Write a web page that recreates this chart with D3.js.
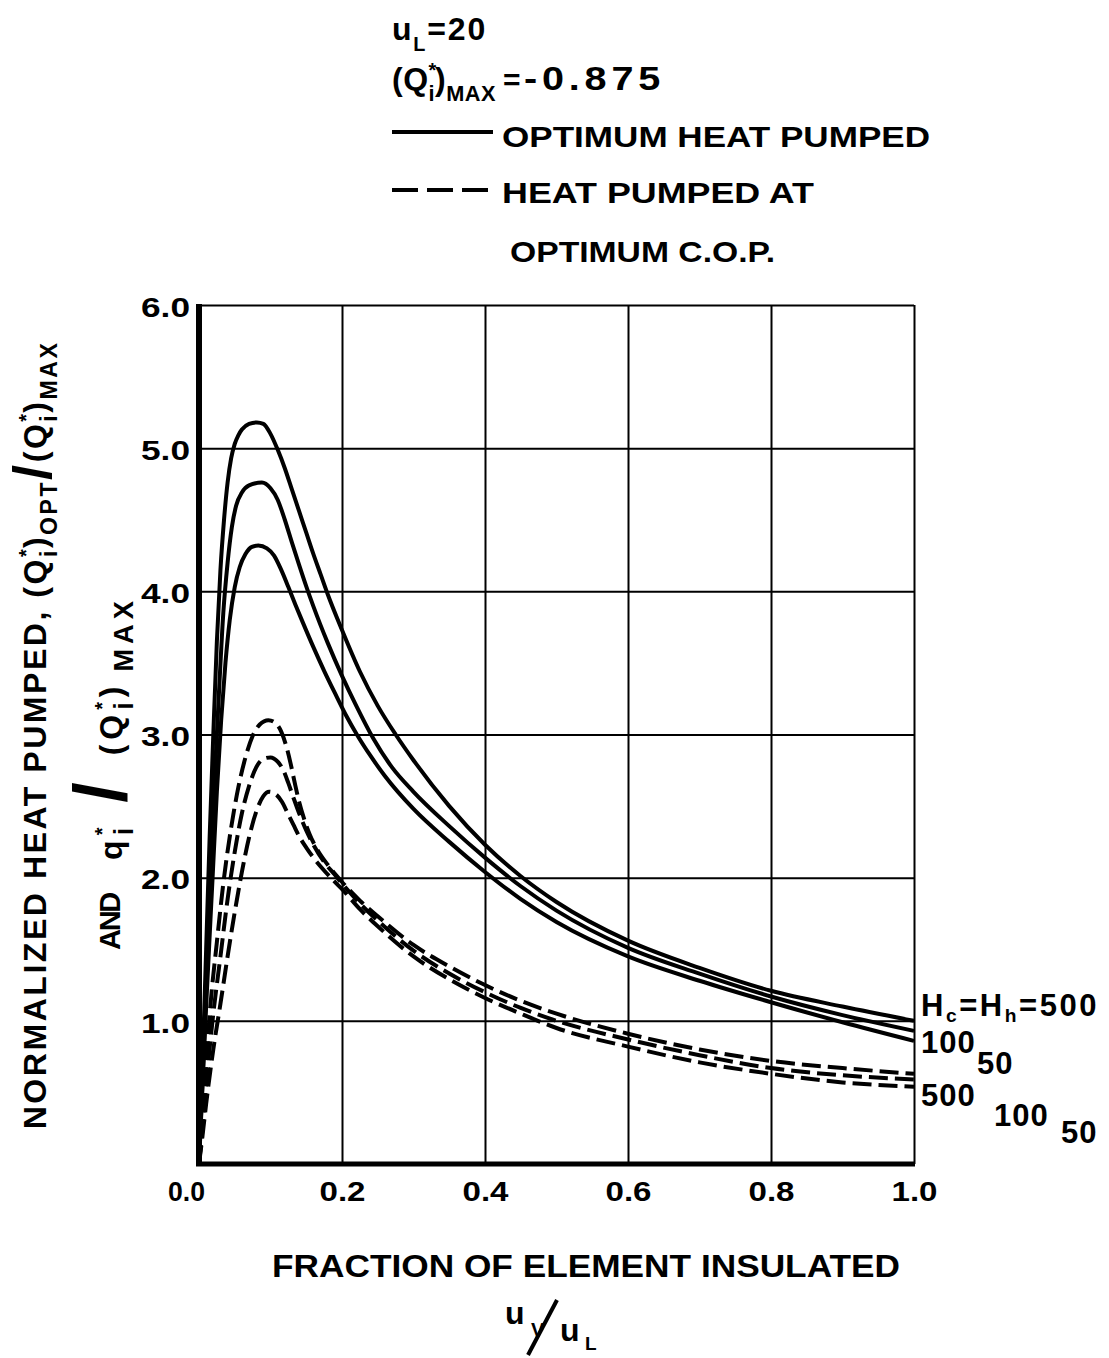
<!DOCTYPE html>
<html><head><meta charset="utf-8">
<script src="https://cdn.jsdelivr.net/npm/d3@7"></script>
<style>
body{margin:0;background:#fff}
svg{display:block;background:#fff}
text{font-family:"Liberation Sans",Arial,sans-serif;font-weight:bold;fill:#000}
</style></head>
<body><svg id="c" width="1109" height="1358"></svg>
<script>
// ---------- data ----------
const xTicks = [0, 0.2, 0.4, 0.6, 0.8, 1.0];
const xTickLabels = ["0.0", "0.2", "0.4", "0.6", "0.8", "1.0"];
const yTicks = [1, 2, 3, 4, 5, 6];
const yTickLabels = ["1.0", "2.0", "3.0", "4.0", "5.0", "6.0"];

// Optimum heat pumped (solid), Hc = Hh = 500, 100, 50  — [u_v/u_L, value]
const solid500 = [[0,0],[0.005,0.7],[0.01,1.5],[0.015,2.3],[0.02,3.0],[0.025,3.65],[0.03,4.15],[0.035,4.5],[0.04,4.76],[0.045,4.93],[0.05,5.03],[0.055,5.09],[0.06,5.13],[0.07,5.17],[0.081,5.18],[0.09,5.17],[0.1,5.1],[0.11,4.99],[0.12,4.86],[0.13,4.71],[0.14,4.56],[0.15,4.41],[0.16,4.26],[0.17,4.12],[0.18,3.98],[0.2,3.73],[0.225,3.44],[0.25,3.2],[0.275,3.0],[0.3,2.82],[0.35,2.5],[0.4,2.23],[0.45,2.01],[0.5,1.83],[0.6,1.56],[0.7,1.37],[0.8,1.21],[0.9,1.1],[1.0,1.0]];
const solid100 = [[0,0],[0.005,0.6],[0.01,1.25],[0.016,2.0],[0.022,2.7],[0.028,3.3],[0.034,3.85],[0.04,4.2],[0.046,4.45],[0.052,4.6],[0.06,4.69],[0.07,4.74],[0.088,4.76],[0.1,4.72],[0.11,4.64],[0.12,4.5],[0.13,4.34],[0.14,4.185],[0.15,4.035],[0.16,3.895],[0.18,3.64],[0.2,3.41],[0.22,3.2],[0.244,2.97],[0.27,2.77],[0.3,2.6],[0.35,2.36],[0.4,2.14],[0.45,1.94],[0.5,1.77],[0.6,1.51],[0.7,1.33],[0.8,1.17],[0.9,1.04],[1.0,0.93]];
const solid50 = [[0,0],[0.005,0.55],[0.01,1.1],[0.019,2.0],[0.025,2.6],[0.031,3.1],[0.037,3.5],[0.043,3.8],[0.05,4.03],[0.057,4.17],[0.065,4.26],[0.074,4.31],[0.083,4.32],[0.095,4.3],[0.105,4.25],[0.115,4.15],[0.125,4.03],[0.135,3.905],[0.145,3.785],[0.16,3.61],[0.175,3.445],[0.19,3.29],[0.205,3.14],[0.222,2.99],[0.24,2.85],[0.26,2.71],[0.3,2.48],[0.35,2.25],[0.4,2.04],[0.45,1.85],[0.5,1.69],[0.6,1.45],[0.7,1.28],[0.8,1.13],[0.9,0.99],[1.0,0.86]];

// Heat pumped at optimum C.O.P. (dashed), Hc = Hh = 500, 100, 50
const dashed500 = [[0,0],[0.005,0.3],[0.01,0.7],[0.015,1.05],[0.025,1.55],[0.035,2.0],[0.045,2.35],[0.055,2.63],[0.065,2.84],[0.075,2.99],[0.085,3.07],[0.097,3.1],[0.107,3.08],[0.115,3.02],[0.122,2.92],[0.128,2.8],[0.134,2.66],[0.14,2.53],[0.147,2.41],[0.155,2.3],[0.165,2.2],[0.18,2.09],[0.2,1.97],[0.225,1.84],[0.25,1.73],[0.3,1.53],[0.35,1.38],[0.4,1.25],[0.45,1.14],[0.5,1.05],[0.6,0.91],[0.7,0.8],[0.8,0.72],[0.9,0.67],[1.0,0.63]];
const dashed100 = [[0,0],[0.005,0.25],[0.01,0.55],[0.02,1.05],[0.03,1.45],[0.04,1.85],[0.05,2.18],[0.06,2.45],[0.07,2.64],[0.08,2.77],[0.09,2.83],[0.1,2.84],[0.11,2.81],[0.118,2.75],[0.125,2.66],[0.132,2.56],[0.14,2.45],[0.15,2.33],[0.16,2.23],[0.175,2.11],[0.19,2.02],[0.2,1.96],[0.225,1.82],[0.25,1.7],[0.3,1.49],[0.35,1.33],[0.4,1.2],[0.45,1.09],[0.5,1.0],[0.6,0.87],[0.7,0.76],[0.8,0.67],[0.9,0.62],[1.0,0.59]];
const dashed50 = [[0,0],[0.005,0.2],[0.01,0.42],[0.02,0.8],[0.03,1.12],[0.04,1.45],[0.05,1.76],[0.06,2.04],[0.07,2.28],[0.08,2.46],[0.09,2.57],[0.098,2.6],[0.108,2.58],[0.116,2.53],[0.124,2.45],[0.132,2.37],[0.14,2.29],[0.15,2.21],[0.16,2.14],[0.175,2.05],[0.19,1.97],[0.2,1.92],[0.225,1.78],[0.25,1.66],[0.3,1.45],[0.35,1.29],[0.4,1.16],[0.45,1.05],[0.5,0.95],[0.6,0.82],[0.7,0.71],[0.8,0.63],[0.9,0.57],[1.0,0.54]];

const solidSeries = [solid500, solid100, solid50];
const dashedSeries = [dashed500, dashed100, dashed50];

// ---------- layout ----------
const svg = d3.select("#c");
const L = 199, R = 914, T = 305, B = 1164;
const x = d3.scaleLinear().domain([0, 1]).range([L, R]);
const y = d3.scaleLinear().domain([0, 6]).range([B, T]);

// rich text: segments [text, kind, dx]
function rich(sel, px, py, segs, fs0, opts) {
  opts = opts || {};
  const subF = opts.subF || 0.62;
  const subSh = opts.subSh != null ? opts.subSh : 0.34;
  const bigF = opts.bigF || 1.45;
  function build(fs, ls) {
    const t = sel.append("text").attr("x", px).attr("y", py).attr("font-size", fs)
      .attr("letter-spacing", ls);
    if (opts.anchor) t.attr("text-anchor", opts.anchor);
    if (opts.transform) t.attr("transform", opts.transform);
    let cur = 0, prev = null;
    segs.forEach(([s, k, dx]) => {
      let size = fs, sh = 0;
      if (k === "sub" || k === "subS") { size = fs * subF; sh = fs * subSh; }
      if (k === "sup") { size = fs * 0.62; sh = -fs * 0.42; }
      if (k === "big") { size = fs * bigF; sh = fs * 0.14; }
      const ts = t.append("tspan").attr("font-size", size).attr("dy", sh - cur).text(s);
      let ddx = dx || 0;
      if (k === "subS" && prev) ddx -= prev.getComputedTextLength();
      if (ddx) ts.attr("dx", ddx);
      cur = sh; prev = ts.node();
    });
    return t;
  }
  let fs = fs0, ls = opts.ls || 0;
  let t = build(fs, ls);
  for (let k = 0; k < 2 && (opts.fit || opts.fitSize); k++) {
    const len = t.node().getComputedTextLength();
    if (opts.fit) {
      const n = segs.reduce((a, s) => a + s[0].length, 0);
      ls = ls + (opts.fit - len) / n;
    } else {
      fs = fs * opts.fitSize / len;
    }
    t.remove(); t = build(fs, ls);
  }
  return t;
}

// grid via axes
const gx = svg.append("g").attr("transform", `translate(0,${B})`)
  .call(d3.axisBottom(x).tickValues(xTicks).tickSize(-(B - T)).tickPadding(17)
    .tickFormat((d, i) => xTickLabels[i]));
gx.select(".domain").remove();
gx.selectAll(".tick line").attr("stroke", "#000").attr("stroke-width", 2);
gx.selectAll(".tick text").attr("font-size", 28).attr("font-family", null).attr("fill", "#000")
  .attr("textLength", (d, i) => i === 0 ? 37 : 46).attr("lengthAdjust", "spacingAndGlyphs")
  .attr("dx", (d, i) => i === 0 ? -13 : 0);

const gy = svg.append("g").attr("transform", `translate(${L},0)`)
  .call(d3.axisLeft(y).tickValues(yTicks).tickSize(-(R - L)).tickPadding(9)
    .tickFormat((d, i) => yTickLabels[i]));
gy.select(".domain").remove();
gy.selectAll(".tick line").attr("stroke", "#000").attr("stroke-width", 2);
gy.selectAll(".tick text").attr("font-size", 28).attr("font-family", null).attr("fill", "#000")
  .attr("textLength", 49).attr("lengthAdjust", "spacingAndGlyphs").attr("dy", "0.4em");

// thick left & bottom axes
svg.append("line").attr("x1", L).attr("x2", L).attr("y1", T - 1).attr("y2", B + 2)
  .attr("stroke", "#000").attr("stroke-width", 6);
svg.append("line").attr("x1", L - 3).attr("x2", R + 1).attr("y1", B).attr("y2", B)
  .attr("stroke", "#000").attr("stroke-width", 5);

// curves
const line = d3.line().x(d => x(d[0])).y(d => y(d[1])).curve(d3.curveMonotoneX);
svg.append("g").selectAll("path").data(solidSeries).join("path")
  .attr("d", line).attr("fill", "none").attr("stroke", "#000").attr("stroke-width", 4)
  .attr("stroke-linejoin", "round");
svg.append("g").selectAll("path").data(dashedSeries).join("path")
  .attr("d", line).attr("fill", "none").attr("stroke", "#000").attr("stroke-width", 4)
  .attr("stroke-dasharray", "19,7");

// legend block
rich(svg, 392, 40, [["u"], ["L", "sub"], ["=20"]], 32, { fit: 95 });
rich(svg, 392, 90, [["(Q"], ["*", "sup"], ["i", "subS"], [")"], ["MAX", "sub"]], 32, { subF: 0.68, ls: 0.5 });
svg.append("text").attr("x", 503).attr("y", 90).attr("font-size", 30).text("=");
svg.append("text").attr("x", 524).attr("y", 90).attr("font-size", 33).attr("letter-spacing", 4)
  .attr("textLength", 141).attr("lengthAdjust", "spacingAndGlyphs").text("-0.875");
svg.append("line").attr("x1", 392).attr("x2", 493).attr("y1", 132).attr("y2", 132)
  .attr("stroke", "#000").attr("stroke-width", 4);
svg.append("text").attr("x", 502).attr("y", 147).attr("font-size", 30)
  .attr("textLength", 428).attr("lengthAdjust", "spacingAndGlyphs").text("OPTIMUM HEAT PUMPED");
svg.append("line").attr("x1", 392).attr("x2", 493).attr("y1", 190).attr("y2", 190)
  .attr("stroke", "#000").attr("stroke-width", 4).attr("stroke-dasharray", "26,9");
svg.append("text").attr("x", 502).attr("y", 203).attr("font-size", 30)
  .attr("textLength", 312).attr("lengthAdjust", "spacingAndGlyphs").text("HEAT PUMPED AT");
svg.append("text").attr("x", 510).attr("y", 262).attr("font-size", 30)
  .attr("textLength", 265).attr("lengthAdjust", "spacingAndGlyphs").text("OPTIMUM C.O.P.");

// y-axis titles (rotated)
rich(svg, 0, 0, [["NORMALIZED HEAT PUMPED, (Q"], ["*", "sup"], ["i", "subS"], [")"], ["OPT", "sub"],
  ["/", "big"], ["(Q"], ["*", "sup"], ["i", "subS"], [")"], ["MAX", "sub"]], 30,
  { anchor: "middle", fitSize: 810, ls: 2.5, subF: 0.72, bigF: 1.7, transform: "translate(46,735) rotate(-90)" });
rich(svg, 0, 0, [["AND"]], 29, { anchor: "middle", fit: 56, transform: "translate(120,922) rotate(-90)" });
rich(svg, 0, 0, [["q"], ["*", "sup"], ["i", "subS"], ["/", "big", 20], ["(Q", "n", 22], ["*", "sup"], ["i", "subS"], [")"], ["MAX", "sub", 10]], 32,
  { anchor: "middle", ls: 5, subF: 0.85, bigF: 2.3, transform: "translate(122,728) rotate(-90)" });

// x-axis title
svg.append("text").attr("x", 272).attr("y", 1277).attr("font-size", 32)
  .attr("textLength", 628).attr("lengthAdjust", "spacingAndGlyphs").text("FRACTION OF ELEMENT INSULATED");
svg.append("text").attr("x", 505).attr("y", 1324).attr("font-size", 32).text("u");
svg.append("text").attr("x", 531).attr("y", 1337).attr("font-size", 20).text("V");
svg.append("line").attr("x1", 528).attr("y1", 1355).attr("x2", 557).attr("y2", 1300)
  .attr("stroke", "#000").attr("stroke-width", 4);
svg.append("text").attr("x", 560).attr("y", 1341).attr("font-size", 32).text("u");
svg.append("text").attr("x", 585).attr("y", 1350).attr("font-size", 19).text("L");

// curve labels at right end
rich(svg, 921, 1016, [["H"], ["c", "sub"], ["=H"], ["h", "sub"], ["=500"]], 31, { fit: 178, subSh: 0.2 });
svg.append("text").attr("x", 921).attr("y", 1053).attr("font-size", 31).attr("letter-spacing", 1).text("100");
svg.append("text").attr("x", 977).attr("y", 1074).attr("font-size", 31).attr("letter-spacing", 1).text("50");
svg.append("text").attr("x", 921).attr("y", 1106).attr("font-size", 31).attr("letter-spacing", 1).text("500");
svg.append("text").attr("x", 994).attr("y", 1126).attr("font-size", 31).attr("letter-spacing", 1).text("100");
svg.append("text").attr("x", 1061).attr("y", 1143).attr("font-size", 31).attr("letter-spacing", 1).text("50");
</script></body></html>
